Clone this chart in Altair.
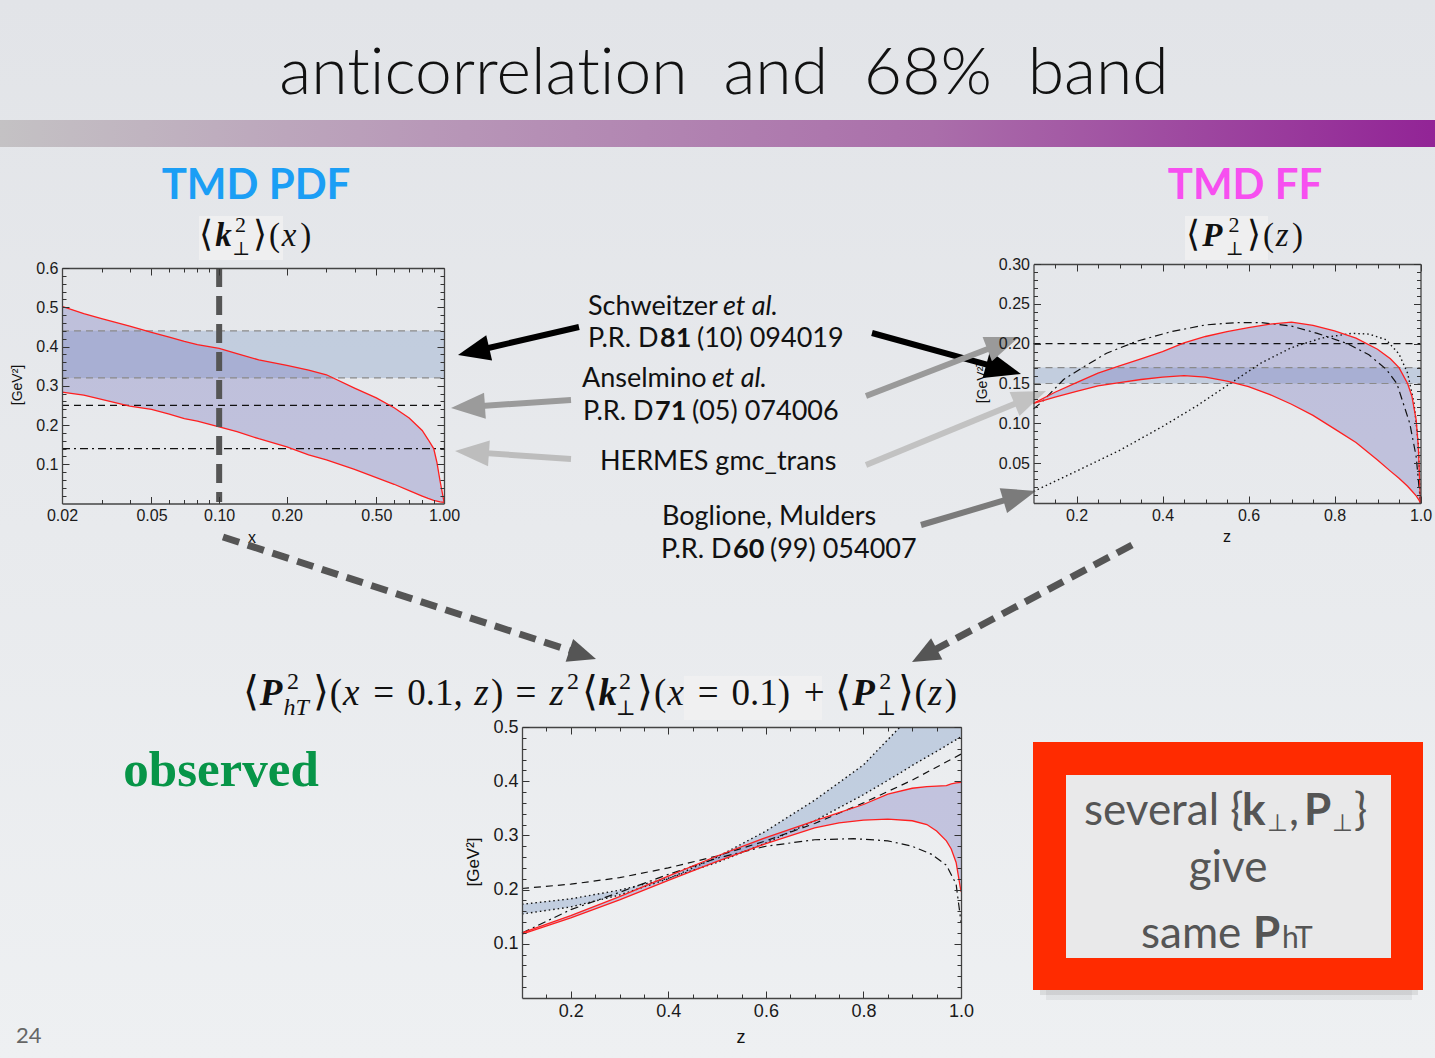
import math
import altair as alt
import pandas as pd

W, H = 1435, 1058
SANS = "Lato"
AXF = "Liberation Sans"
MATH = "Liberation Serif"
BRK = "DejaVu Sans"

# ---------------------------------------------------------------- data
# TMD PDF <k_perp^2>(x): 68% band of the fit (upper / lower edge)
pdf_x = [0.02, 0.025, 0.03, 0.04, 0.05, 0.06, 0.07, 0.08, 0.1, 0.12, 0.15, 0.2,
         0.25, 0.3, 0.4, 0.5, 0.6, 0.7, 0.8, 0.85, 0.9, 0.93, 0.96, 1.0]
pdf_hi = [0.502, 0.484, 0.471, 0.452, 0.436, 0.424, 0.413, 0.405, 0.395, 0.382, 0.366, 0.352,
          0.340, 0.328, 0.294, 0.269, 0.244, 0.218, 0.186, 0.163, 0.140, 0.105, 0.058, 0.004]
pdf_lo = [0.284, 0.276, 0.265, 0.248, 0.240, 0.228, 0.216, 0.210, 0.195, 0.183, 0.165, 0.144,
          0.124, 0.111, 0.087, 0.066, 0.049, 0.033, 0.019, 0.013, 0.008, 0.006, 0.004, 0.003]
pdf_schweitzer = [0.32, 0.44]
pdf_anselmino = 0.25
pdf_hermes = 0.14
x_cut = 0.1

# TMD FF <P_perp^2>(z)
ff_z = [0.1, 0.15, 0.2, 0.25, 0.3, 0.35, 0.4, 0.45, 0.5, 0.55, 0.6, 0.65, 0.7, 0.75,
        0.8, 0.85, 0.9, 0.93, 0.95, 0.97, 0.98, 0.99, 0.995, 1.0]
ff_hi = [0.125, 0.139, 0.151, 0.163, 0.172, 0.181, 0.190, 0.201, 0.209, 0.215, 0.220, 0.2245,
         0.227, 0.223, 0.216, 0.207, 0.193, 0.181, 0.170, 0.150, 0.134, 0.104, 0.070, 0.0]
ff_lo = [0.125, 0.133, 0.140, 0.147, 0.151, 0.155, 0.158, 0.160, 0.158, 0.153, 0.146, 0.136,
         0.124, 0.110, 0.093, 0.076, 0.054, 0.040, 0.031, 0.021, 0.015, 0.009, 0.005, 0.0]
ff_schweitzer = [0.15, 0.17]
ff_anselmino = 0.20
ff_hermes_z = [0.1, 0.12, 0.17, 0.22, 0.27, 0.34, 0.42, 0.5, 0.57, 0.63, 0.7, 0.76, 0.83,
               0.88, 0.92, 0.945, 0.975, 0.99, 1.0]
ff_hermes = [0.118, 0.127, 0.155, 0.172, 0.188, 0.203, 0.215, 0.2235, 0.2264, 0.2265, 0.222,
             0.213, 0.200, 0.186, 0.168, 0.150, 0.100, 0.058, 0.0]
ff_bm_z = [0.1, 0.2, 0.3, 0.4, 0.48, 0.56, 0.63, 0.7, 0.77, 0.84, 0.88, 0.92, 0.95, 0.97,
           0.985, 0.995, 1.0]
ff_bm = [0.0145, 0.040, 0.066, 0.096, 0.122, 0.151, 0.176, 0.195, 0.207, 0.213, 0.212, 0.205,
         0.187, 0.163, 0.125, 0.075, 0.0]

# <P_hT^2>(x=0.1, z)
pht_z = [0.1, 0.2, 0.3, 0.4, 0.5, 0.6, 0.7, 0.75, 0.8, 0.85, 0.9, 0.93, 0.95, 0.97, 0.98, 0.99, 1.0]
pht_hi = [0.120, 0.152, 0.187, 0.225, 0.262, 0.296, 0.327, 0.342, 0.357, 0.376, 0.387, 0.390,
          0.391, 0.392, 0.395, 0.397, 0.398]
pht_lo = [0.118, 0.148, 0.181, 0.217, 0.252, 0.285, 0.314, 0.323, 0.328, 0.330, 0.327, 0.320,
          0.308, 0.290, 0.275, 0.250, 0.196]
sch_z = [0.1, 0.2, 0.3, 0.4, 0.5, 0.6, 0.7, 0.8, 0.875]
sch_a = [0.155, 0.168, 0.190, 0.220, 0.260, 0.308, 0.365, 0.430, 0.500]
sch_band_z = [0.1, 0.2, 0.3, 0.4, 0.5, 0.6, 0.7, 0.8, 0.875, 0.9, 0.95, 1.0]
sch_band_top = [0.155, 0.168, 0.190, 0.220, 0.260, 0.308, 0.365, 0.430, 0.500, 0.500, 0.500, 0.500]
sch_b = [0.173, 0.183, 0.199, 0.221, 0.250, 0.286, 0.327, 0.375, 0.415, 0.429, 0.455, 0.482]
ans_z = [0.1, 0.2, 0.3, 0.4, 0.5, 0.6, 0.7, 0.8, 0.9, 1.0]
ans_pht = [0.202, 0.210, 0.222, 0.240, 0.262, 0.290, 0.322, 0.360, 0.402, 0.450]
her_z = [0.1, 0.2, 0.3, 0.4, 0.5, 0.6, 0.7, 0.78, 0.85, 0.9, 0.94, 0.97, 0.99, 1.0]
her_pht = [0.120, 0.163, 0.195, 0.228, 0.258, 0.280, 0.292, 0.294, 0.290, 0.280, 0.265, 0.245,
           0.210, 0.140]

# ---------------------------------------------------------------- panels
P_PDF = {"type": "log", "xd": [0.02, 1.0], "xr": [62, 444], "yd": [0.0, 0.6], "yr": [503.5, 268]}
P_FF = {"type": "linear", "xd": [0.1, 1.0], "xr": [1033.5, 1420.5], "yd": [0.0, 0.3], "yr": [503, 264]}
P_PHT = {"type": "linear", "xd": [0.1, 1.0], "xr": [522, 961], "yd": [0.0, 0.5], "yr": [998, 727]}

RED = "#ff1f1f"
LAV = "#7c7cc0"
BLUE = "#7d9ac6"
ONE = pd.DataFrame({"k": [0]})


def xs(p):
    return alt.Scale(type=p["type"], domain=p["xd"], range=p["xr"], nice=False)


def ys(p):
    return alt.Scale(type="linear", domain=p["yd"], range=p["yr"], nice=False, zero=False)


def curve(p, xv, yv, color, width=1.3, dash=None):
    df = pd.DataFrame({"a": xv, "b": yv})
    kw = {"color": color, "strokeWidth": width}
    if dash:
        kw["strokeDash"] = dash
    return alt.Chart(df).mark_line(**kw).encode(
        x=alt.X("a:Q", scale=xs(p), axis=None),
        y=alt.Y("b:Q", scale=ys(p), axis=None))


def band(p, xv, lo, hi, color, opacity):
    df = pd.DataFrame({"a": xv, "lo": lo, "hi": hi})
    return alt.Chart(df).mark_area(color=color, opacity=opacity).encode(
        x=alt.X("a:Q", scale=xs(p), axis=None),
        y=alt.Y("lo:Q", scale=ys(p), axis=None),
        y2="hi:Q")


def hband(p, v0, v1, color, opacity):
    return band(p, p["xd"], [v0, v0], [v1, v1], color, opacity)


def hline(p, v, color, dash, width=1.2):
    return curve(p, p["xd"], [v, v], color, width, dash)


def frame_layer(p, xaxis, yaxis):
    df = pd.DataFrame({"a": p["xd"], "b": p["yd"]})
    return alt.Chart(df).mark_point(opacity=0).encode(
        x=alt.X("a:Q", scale=xs(p), axis=xaxis, title=None),
        y=alt.Y("b:Q", scale=ys(p), axis=yaxis, title=None))


def frame(p, xmaj, ymaj, xmin, ymin, xfmt, yfmt, fs):
    """Mathematica-style frame: labels outside, ticks pointing inward on all four sides."""
    x0, x1 = p["xr"]
    yb, yt = p["yr"]
    lab = dict(labelFont=AXF, labelFontSize=fs, labelColor="#1a1a1a", labelFlush=False,
               labelOverlap=False, ticks=False, tickSize=0, domain=False, grid=False, zindex=1)
    tk = dict(labels=False, grid=False, tickColor="#333333", tickWidth=1, domainColor="#444444",
              domainWidth=1.3, zindex=1)
    out = [frame_layer(
        p,
        alt.Axis(orient="bottom", offset=yb - H, values=xmaj, format=xfmt, labelPadding=4, **lab),
        alt.Axis(orient="left", offset=-x0, values=ymaj, format=yfmt, labelPadding=4, **lab))]
    for size, xv, yv, dom in ((7, xmaj, ymaj, True), (4, xmin, ymin, False)):
        out.append(frame_layer(
            p,
            alt.Axis(orient="top", offset=-yb, values=xv, tickSize=size, domain=dom, **tk),
            alt.Axis(orient="right", offset=x0 - W, values=yv, tickSize=size, domain=dom, **tk)))
        out.append(frame_layer(
            p,
            alt.Axis(orient="bottom", offset=yt - H, values=xv, tickSize=size, domain=dom, **tk),
            alt.Axis(orient="left", offset=-x1, values=yv, tickSize=size, domain=dom, **tk)))
    return out


def txt(items, size, font=SANS, weight="normal", style="normal", color="#111111",
        align="left", baseline="alphabetic", angle=0):
    df = pd.DataFrame(items, columns=["t", "px", "py"])
    return alt.Chart(df).mark_text(
        font=font, fontSize=size, fontWeight=weight, fontStyle=style, color=color,
        align=align, baseline=baseline, angle=angle).encode(
        x=alt.X("px:Q", scale=None, axis=None),
        y=alt.Y("py:Q", scale=None, axis=None),
        text="t:N")


def rect(x0, y0, x1, y1, fill, opacity=1.0):
    return alt.Chart(ONE).mark_rect(color=fill, opacity=opacity).encode(
        x=alt.value(x0), x2=alt.value(x1), y=alt.value(y0), y2=alt.value(y1))


def arrow(tail, tip, color, width, head_len, head_w, dash=None):
    (x0, y0), (x1, y1) = tail, tip
    dx, dy = x1 - x0, y1 - y0
    n = math.hypot(dx, dy)
    ux, uy = dx / n, dy / n
    ex, ey = x1 - ux * head_len * 0.8, y1 - uy * head_len * 0.8
    kw = {"color": color, "strokeWidth": width}
    if dash:
        kw["strokeDash"] = dash
    shaft = alt.Chart(ONE).mark_rule(**kw).encode(
        x=alt.value(x0), y=alt.value(y0), x2=alt.value(ex), y2=alt.value(ey))
    r = head_w / head_len / 2
    path = f"M0,0L{-r:.3f},1L{r:.3f},1Z"
    ang = math.degrees(math.atan2(dx, -dy)) % 360
    head = alt.Chart(ONE).mark_point(
        shape=path, filled=True, color=color, opacity=1, strokeWidth=0,
        size=4 * head_len ** 2, angle=ang).encode(x=alt.value(x1), y=alt.value(y1))
    return [shaft, head]


# ---- typesetting of the small formulas (Times-like advance widths, in em)
RM_W = {"(": .333, ")": .333, "=": .564, "+": .564, "0": .5, "1": .5, "2": .5, ".": .25, ",": .25}
IT_W = {"x": .444, "z": .389, "h": .5, "T": .556}
BI_W = {"P": .667, "k": .5}
SP_W = {"thick": 0.28, "med": 0.22, "thin": 0.17}
FONTS = {"br": (BRK, 200, "normal"), "rm": (MATH, "normal", "normal"),
         "it": (MATH, "normal", "italic"), "bi": (MATH, "bold", "italic"),
         "perp": ("DejaVu Serif", "normal", "normal")}


def typeset(x0, x1, base, S, tokens):
    runs, pen = [], 0.0
    for tok in tokens:
        kind = tok[0]
        if kind == "sp":
            pen += SP_W[tok[1]] * S
        elif kind == "br":
            runs.append(("br", tok[1], pen, 0.0, round(S * 1.1)))
            pen += 0.42 * S
        elif kind == "rm":
            runs.append(("rm", tok[1], pen, 0.0, S))
            pen += sum(RM_W[c] for c in tok[1]) * S
        elif kind == "it":
            runs.append(("it", tok[1], pen, 0.0, S))
            pen += sum(IT_W[c] for c in tok[1]) * S + 0.03 * S
        elif kind == "bi":
            runs.append(("bi", tok[1], pen, 0.0, S))
            pen += sum(BI_W[c] for c in tok[1]) * S
        elif kind == "sup":
            s = round(0.66 * S)
            runs.append(("rm", tok[1], pen + 0.02 * S, -0.42 * S, s))
            pen += 0.5 * s + 0.06 * S
        elif kind == "stack":
            s = round(0.66 * S)
            runs.append(("rm", tok[1], pen + 0.01 * S, -0.42 * S, s))
            w_sup = 0.5 * s + 0.01 * S
            if tok[2] == "⊥":
                sp = round(0.58 * S)
                runs.append(("perp", "⊥", pen - 0.06 * S, 0.28 * S, sp))
                w_sub = 0.84 * sp - 0.06 * S
            else:
                runs.append(("it", tok[2], pen - 0.08 * S, 0.26 * S, s))
                w_sub = sum(IT_W[c] for c in tok[2]) * s - 0.08 * S
            pen += max(w_sup, w_sub) + 0.05 * S
    f = (x1 - x0) / pen
    groups = {}
    for kind, text, px, dy, size in runs:
        groups.setdefault((kind, size), []).append((text, x0 + px * f, base + dy))
    out = []
    for (kind, size), items in groups.items():
        font, weight, style = FONTS[kind]
        out.append(txt(items, size, font, weight=weight, style=style))
    return out


K_LABEL = [("br", "⟨"), ("bi", "k"), ("stack", "2", "⊥"), ("br", "⟩"),
           ("rm", "("), ("it", "x"), ("rm", ")")]
P_LABEL = [("br", "⟨"), ("bi", "P"), ("stack", "2", "⊥"), ("br", "⟩"),
           ("rm", "("), ("it", "z"), ("rm", ")")]
FORMULA = [("br", "⟨"), ("bi", "P"), ("stack", "2", "hT"), ("br", "⟩"),
           ("rm", "("), ("it", "x"), ("sp", "thick"), ("rm", "="), ("sp", "thick"),
           ("rm", "0.1,"), ("sp", "thin"), ("it", "z"), ("rm", ")"),
           ("sp", "thick"), ("rm", "="), ("sp", "thick"),
           ("it", "z"), ("sup", "2"), ("br", "⟨"), ("bi", "k"), ("stack", "2", "⊥"), ("br", "⟩"),
           ("rm", "("), ("it", "x"), ("sp", "thick"), ("rm", "="), ("sp", "thick"), ("rm", "0.1)"),
           ("sp", "med"), ("rm", "+"), ("sp", "med"),
           ("br", "⟨"), ("bi", "P"), ("stack", "2", "⊥"), ("br", "⟩"),
           ("rm", "("), ("it", "z"), ("rm", ")")]

layers = []

# slide background and header bar
layers.append(alt.Chart(ONE).mark_rect(color=alt.Gradient(
    gradient="linear", x1=0, x2=0, y1=0, y2=1,
    stops=[alt.GradientStop(color="#e2e4e8", offset=0),
           alt.GradientStop(color="#eef0f2", offset=1)])).encode(
    x=alt.value(0), x2=alt.value(W), y=alt.value(0), y2=alt.value(H)))
layers.append(alt.Chart(ONE).mark_rect(color=alt.Gradient(
    gradient="linear", x1=0, x2=1, y1=0, y2=0,
    stops=[alt.GradientStop(color="#c4c2c4", offset=0),
           alt.GradientStop(color="#b898b8", offset=0.3),
           alt.GradientStop(color="#aa6eaa", offset=0.65),
           alt.GradientStop(color="#922496", offset=1)])).encode(
    x=alt.value(0), x2=alt.value(W), y=alt.value(120), y2=alt.value(147)))

# light patches behind the math labels
layers += [rect(199, 216, 283, 260, "#f1f1f1", 0.8),
           rect(1185, 216, 1268, 260, "#f1f1f1", 0.8),
           rect(684, 676, 822, 720, "#f1f1f1", 0.8)]

# ---- left panel: <k_perp^2>(x)
layers += [
    hband(P_PDF, pdf_schweitzer[0], pdf_schweitzer[1], BLUE, 0.35),
    band(P_PDF, pdf_x, pdf_lo, pdf_hi, LAV, 0.37),
    hline(P_PDF, pdf_schweitzer[0], "#8a8a8a", [7, 5]),
    hline(P_PDF, pdf_schweitzer[1], "#8a8a8a", [7, 5]),
    hline(P_PDF, pdf_anselmino, "#111111", [7, 5]),
    hline(P_PDF, pdf_hermes, "#111111", [8, 4, 2, 4]),
    curve(P_PDF, pdf_x, pdf_hi, RED),
    curve(P_PDF, pdf_x, pdf_lo, RED),
    curve(P_PDF, [x_cut, x_cut], [0.6, 0.004], "#555555", 6, [19, 9]),
]
layers += frame(P_PDF, [0.02, 0.05, 0.1, 0.2, 0.5, 1.0], [0.1, 0.2, 0.3, 0.4, 0.5, 0.6],
                [0.03, 0.04, 0.06, 0.07, 0.08, 0.09, 0.3, 0.4, 0.6, 0.7, 0.8, 0.9],
                [round(0.02 * i, 2) for i in range(1, 30) if i % 5],
                ".2f", ".1f", 16)

# ---- right panel: <P_perp^2>(z)
layers += [
    hband(P_FF, ff_schweitzer[0], ff_schweitzer[1], BLUE, 0.35),
    band(P_FF, ff_z, ff_lo, ff_hi, LAV, 0.37),
    hline(P_FF, ff_schweitzer[0], "#8a8a8a", [7, 5]),
    hline(P_FF, ff_schweitzer[1], "#8a8a8a", [7, 5]),
    hline(P_FF, ff_anselmino, "#111111", [7, 5]),
    curve(P_FF, ff_hermes_z, ff_hermes, "#111111", 1.2, [8, 4, 2, 4]),
    curve(P_FF, ff_bm_z, ff_bm, "#111111", 1.4, [1.5, 3]),
    curve(P_FF, ff_z, ff_hi, RED),
    curve(P_FF, ff_z, ff_lo, RED),
]
layers += frame(P_FF, [0.2, 0.4, 0.6, 0.8, 1.0], [0.05, 0.1, 0.15, 0.2, 0.25, 0.3],
                [0.15, 0.25, 0.3, 0.35, 0.45, 0.5, 0.55, 0.65, 0.7, 0.75, 0.85, 0.9, 0.95],
                [round(0.01 * i, 2) for i in range(1, 30) if i % 5],
                ".1f", ".2f", 16)

# ---- bottom panel: <P_hT^2>(x=0.1, z)
layers += [
    band(P_PHT, sch_band_z, sch_band_top, sch_b, BLUE, 0.38),
    band(P_PHT, pht_z, pht_lo, pht_hi, LAV, 0.37),
    curve(P_PHT, sch_z, sch_a, "#111111", 1.4, [1.5, 3]),
    curve(P_PHT, sch_band_z, sch_b, "#111111", 1.4, [1.5, 3]),
    curve(P_PHT, ans_z, ans_pht, "#111111", 1.2, [7, 5]),
    curve(P_PHT, her_z, her_pht, "#111111", 1.2, [8, 4, 2, 4]),
    curve(P_PHT, pht_z, pht_hi, RED),
    curve(P_PHT, pht_z, pht_lo, RED),
]
layers += frame(P_PHT, [0.2, 0.4, 0.6, 0.8, 1.0], [0.1, 0.2, 0.3, 0.4, 0.5],
                [0.15, 0.25, 0.3, 0.35, 0.45, 0.5, 0.55, 0.65, 0.7, 0.75, 0.85, 0.9, 0.95],
                [round(0.02 * i, 2) for i in range(1, 25) if i % 5],
                ".1f", ".1f", 18)

# axis titles
layers += [
    txt([("[GeV²]", 18, 385), ("[GeV²]", 983, 383)], 14, AXF, angle=270, align="center",
        baseline="middle"),
    txt([("[GeV²]", 474, 862)], 17, AXF, angle=270, align="center", baseline="middle"),
    txt([("x", 252, 543), ("z", 1227, 542)], 16, AXF, align="center"),
    txt([("z", 741, 1043)], 18, AXF, align="center"),
]

# ---- red box with its soft shadow
layers += [
    rect(1046, 986, 1412, 1000, "#9a9a9a", 0.15),
    rect(1040, 986, 1418, 995, "#8a8a8a", 0.2),
    rect(1033, 742, 1423, 990, "#ff2b00"),
    rect(1066, 775, 1391, 958, "#e9e9ea"),
]

# ---- arrows
ARROWS = [
    ((579, 327), (458, 355), "#000000", 6, 32, 26, None),
    ((872, 333), (1021, 374), "#000000", 6, 36, 28, None),
    ((571, 400), (451, 408), "#9b9b9b", 6, 34, 26, None),
    ((866, 396), (1019, 337), "#9a9a9a", 6, 34, 26, None),
    ((571, 459), (455, 451), "#bdbdbd", 6, 34, 26, None),
    ((866, 465), (1046, 391), "#c2c2c2", 6, 34, 26, None),
    ((921, 525), (1036, 491), "#7b7b7b", 6, 34, 26, None),
    ((223, 537), (596, 659), "#555555", 7, 28, 24, [17, 9]),
    ((1132, 545), (912, 662), "#555555", 7, 28, 24, [17, 9]),
]
for a in ARROWS:
    layers += arrow(*a)

# ---- slide text
NB = "\u00a0"
ZW = "\u200c"  # keeps "t" and "i" as separate glyphs
title = f"ant{ZW}icorrelat{ZW}ion{NB}{NB}and{NB}{NB}68%{NB}{NB}band"
layers += [
    txt([(title, 724, 94)], 66, SANS, weight=300, align="center"),
    txt([("TMD PDF", 256, 199)], 42, SANS, weight="bold", color="#1b9ef5", align="center"),
    txt([("TMD FF", 1245, 199)], 42, SANS, weight="bold", color="#f74ff0", align="center"),
    txt([("observed", 221, 786)], 51, MATH, weight="bold", color="#079548", align="center"),
    txt([("24", 16, 1043)], 22, SANS, color="#666666"),
    # references
    txt([("Schweitzer", 588, 315), ("Anselmino", 582, 387), ("P.R. D", 588, 347),
         ("P.R. D", 583, 420), ("HERMES gmc_trans", 600, 470), ("Boglione, Mulders", 662, 525),
         ("P.R. D", 661, 558), ("(10) 094019", 697, 347), ("(05) 074006", 692, 420),
         ("(99) 054007", 770, 558)], 27, SANS),
    txt([("et al.", 723, 315), ("et al.", 712, 387)], 27, SANS, style="italic"),
    txt([("81", 660, 347), ("71", 655, 420), ("60", 733, 558)], 27, SANS, weight="bold"),
    # boxed statement
    txt([("several {", 1084, 825), (",", 1289, 825), ("}", 1354, 825), ("same", 1141, 948)],
        44, SANS, color="#555555"),
    txt([("give", 1228, 882)], 44, SANS, color="#555555", align="center"),
    txt([("k", 1242, 825), ("P", 1304, 825), ("P", 1253, 948)], 44, SANS, weight="bold",
        color="#555555"),
    txt([("⊥", 1267, 831), ("⊥", 1332, 831)], 24, "DejaVu Sans", color="#555555"),
    txt([("hT", 1282, 948)], 30, SANS, color="#555555"),
]

# ---- math labels
layers += typeset(199, 313, 246, 33, K_LABEL)
layers += typeset(1186, 1305, 246, 33, P_LABEL)
layers += typeset(243, 958, 705, 37, FORMULA)

chart = alt.layer(*layers).resolve_scale(
    x="independent", y="independent").resolve_axis(
    x="independent", y="independent").properties(
    width=W, height=H, padding=0, background="#e8eaed",
    autosize=alt.AutoSizeParams(type="none")).configure_view(strokeWidth=0)

chart.save("out.html", embed_options={"renderer": "svg", "actions": False})
